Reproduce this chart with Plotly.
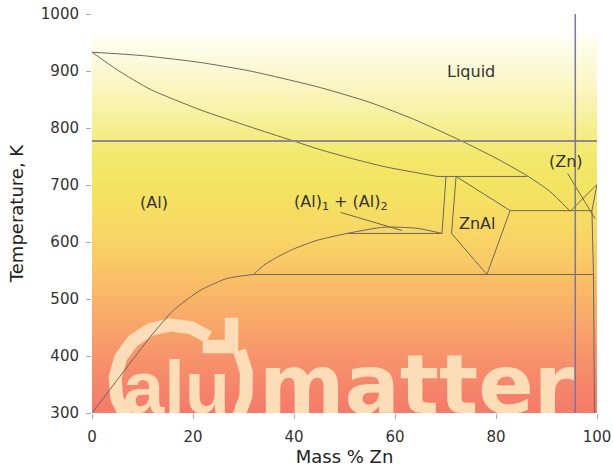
import numpy as np
import plotly.graph_objects as go

# ---------------- data (mass % Zn, temperature K) ----------------
liquidus_zn = [0, 10, 21.4, 31.3, 45.2, 55, 63.8, 73, 80, 86.2, 90.5, 94.7]
liquidus_t = [933, 927, 915, 900, 871, 845, 815, 778, 747, 716, 690, 654]

solidus_zn = [0, 5, 11.5, 21.4, 31.3, 39.3, 45.2, 51.2, 58, 64, 68.4]
solidus_t = [933, 902, 868, 832, 802, 779, 762, 747, 732, 722, 715]

al_solvus_zn = [0, 4.9, 11.5, 16.1, 21.4, 26.7, 32]
al_solvus_t = [300, 357, 433, 480, 515, 536, 543]

gap_zn = [32, 34, 37, 40, 44.6, 50.5, 57.8, 64.4, 69.3]
gap_t = [543, 559, 575, 588, 603, 615, 626, 624, 615]

peritectic_zn = [68.4, 86.2]
peritectic_t = [715, 715]

gap_tie_zn = [50.5, 69.3]
gap_tie_t = [615, 615]

znal_left1_zn = [70.1, 69.3]
znal_left1_t = [715, 615]

znal_poly_zn = [72.1, 82.8, 78.2, 71.2, 72.1]
znal_poly_t = [715, 655, 543, 615, 715]

eutectic_zn = [82.8, 99.0]
eutectic_t = [655, 655]

monotectoid_zn = [32, 99.3]
monotectoid_t = [543, 543]

zn_liquidus_zn = [94.7, 100]
zn_liquidus_t = [654, 701]

zn_solidus_zn = [100, 99.0, 99.3, 99.5]
zn_solidus_t = [701, 655, 543, 300]

pointer_al_zn = [49.2, 61.4]
pointer_al_t = [652, 620]

pointer_zn_zn = [94.2, 99.6]
pointer_zn_t = [720, 641]

ref_temp = 777          # horizontal reference line
ref_comp = 95.7         # vertical reference line

region_labels = ["Liquid", "(Al)", "(Al)<sub>1</sub> + (Al)<sub>2</sub>", "ZnAl", "(Zn)"]
region_zn = [75, 12.2, 49.4, 76.4, 93.8]
region_t = [900, 670, 670, 633, 742]

x_ticks = [0, 20, 40, 60, 80, 100]
y_ticks = [300, 400, 500, 600, 700, 800, 900, 1000]

# ---------------- layout geometry ----------------
W, H = 613, 469
PL, PR, PT, PB = 92, 597, 14, 413      # plot area in pixels
ML, MR, MT, MB = PL, W - PR, PT, H - PB
X0, X1 = 0, 100
Y0, Y1 = 300, 1000


def px_x(px):
    return X0 + (np.asarray(px, dtype=float) - PL) / (PR - PL) * (X1 - X0)


def px_y(py):
    return Y0 + (PB - np.asarray(py, dtype=float)) / (PB - PT) * (Y1 - Y0)


LINE = "#6c685a"
WM = "#FDDCB8"

fig = go.Figure()

# background gradient
fig.add_trace(go.Scatter(
    x=[X0, X1, X1, X0, X0], y=[Y0, Y0, Y1, Y1, Y0],
    mode="none", fill="toself",
    fillgradient=dict(
        type="vertical", start=Y0, stop=Y1,
        colorscale=[
            [0.0, "#F47A6A"], [0.071, "#F5866B"], [0.143, "#F7946C"],
            [0.214, "#F8A46A"], [0.286, "#F9B467"], [0.357, "#F9C465"],
            [0.429, "#F9D366"], [0.5, "#F6DD62"], [0.571, "#F3E462"],
            [0.643, "#F3E86C"], [0.714, "#F5EE8E"], [0.786, "#F8F4B4"],
            [0.857, "#FBF8D2"], [0.929, "#FEFDEE"], [0.964, "#FFFFFF"],
            [1.0, "#FFFFFF"]]),
    hoverinfo="skip", showlegend=False))

# ---------------- watermark (decoration) ----------------
cx, cy, r = 173, 383, 58
th = np.radians(np.linspace(215, 52, 80))
fig.add_trace(go.Scatter(
    x=px_x(cx + r * np.cos(th)), y=px_y(cy - r * np.sin(th)),
    mode="lines", line=dict(color=WM, width=13), hoverinfo="skip", showlegend=False))
th2 = np.radians(np.linspace(26, -40, 40))
r2 = 74
fig.add_trace(go.Scatter(
    x=px_x(cx + r2 * np.cos(th2)), y=px_y(cy - r2 * np.sin(th2)),
    mode="lines", line=dict(color=WM, width=13), hoverinfo="skip", showlegend=False))
ah_x = [203, 225, 225, 238, 238, 203, 203]
ah_y = [340, 340, 318, 318, 353, 353, 340]
fig.add_trace(go.Scatter(
    x=px_x(ah_x), y=px_y(ah_y), mode="lines", fill="toself", fillcolor=WM,
    line=dict(color=WM, width=0.5), hoverinfo="skip", showlegend=False))
fs_alu, fs_mat = 74, 82
fig.add_trace(go.Scatter(
    x=[px_x(123), px_x(259)], y=[px_y(PB - 0.25 * fs_alu), px_y(PB - 0.25 * fs_mat)],
    mode="text", text=["alu", "matter"], textposition="middle right",
    textfont=dict(family=["Liberation Sans", "DejaVu Sans"], size=[fs_alu, fs_mat],
                  color=WM, weight="bold"),
    hoverinfo="skip", showlegend=False, cliponaxis=True))

# ---------------- phase boundaries ----------------
curves = [
    (liquidus_zn, liquidus_t, "spline"),
    (solidus_zn, solidus_t, "spline"),
    (al_solvus_zn, al_solvus_t, "spline"),
    (gap_zn, gap_t, "spline"),
    (peritectic_zn, peritectic_t, "linear"),
    (gap_tie_zn, gap_tie_t, "linear"),
    (znal_left1_zn, znal_left1_t, "linear"),
    (znal_poly_zn, znal_poly_t, "linear"),
    (eutectic_zn, eutectic_t, "linear"),
    (monotectoid_zn, monotectoid_t, "linear"),
    (zn_liquidus_zn, zn_liquidus_t, "linear"),
    (zn_solidus_zn, zn_solidus_t, "linear"),
    (pointer_al_zn, pointer_al_t, "linear"),
    (pointer_zn_zn, pointer_zn_t, "linear"),
]
for xs, ys, shp in curves:
    fig.add_trace(go.Scatter(
        x=xs, y=ys, mode="lines",
        line=dict(color=LINE, width=1, shape=shp, smoothing=0.6),
        hoverinfo="skip", showlegend=False))

# reference lines
fig.add_trace(go.Scatter(x=[X0, X1], y=[ref_temp, ref_temp], mode="lines",
                         line=dict(color="#8d8c86", width=2),
                         hoverinfo="skip", showlegend=False))
fig.add_trace(go.Scatter(x=[ref_comp, ref_comp], y=[Y0, Y1], mode="lines",
                         line=dict(color="#7874b0", width=1.5),
                         hoverinfo="skip", showlegend=False))

# region labels
for txt, xz, yt in zip(region_labels, region_zn, region_t):
    fig.add_annotation(x=xz, y=yt, text=txt, showarrow=False,
                       font=dict(family="DejaVu Sans", size=16, color="#333333"))

axis_common = dict(showgrid=False, zeroline=False, showline=False, automargin=False,
                   ticks="outside", ticklen=5, tickwidth=1, tickcolor="#aaaaaa",
                   ticklabeloverflow="allow",
                   tickfont=dict(family="DejaVu Sans", size=15, color="#333333"))
fig.update_layout(
    width=W, height=H,
    margin=dict(l=ML, r=MR, t=MT, b=MB, autoexpand=False),
    paper_bgcolor="white", plot_bgcolor="white",
    xaxis=dict(range=[X0, X1], tickvals=x_ticks, ticklabelstandoff=5,
               title=dict(text="Mass % Zn", standoff=4,
                          font=dict(family="DejaVu Sans", size=18, color="#222222")),
               **axis_common),
    yaxis=dict(range=[Y0, Y1], tickvals=y_ticks, ticklabelstandoff=4,
               title=dict(text="Temperature, K", standoff=12,
                          font=dict(family="DejaVu Sans", size=18, color="#222222")),
               **axis_common),
)

fig.write_html("out.html",
               config={"displayModeBar": False, "staticPlot": True},
               post_script="document.body.style.margin='0';document.body.style.overflow='hidden';")
